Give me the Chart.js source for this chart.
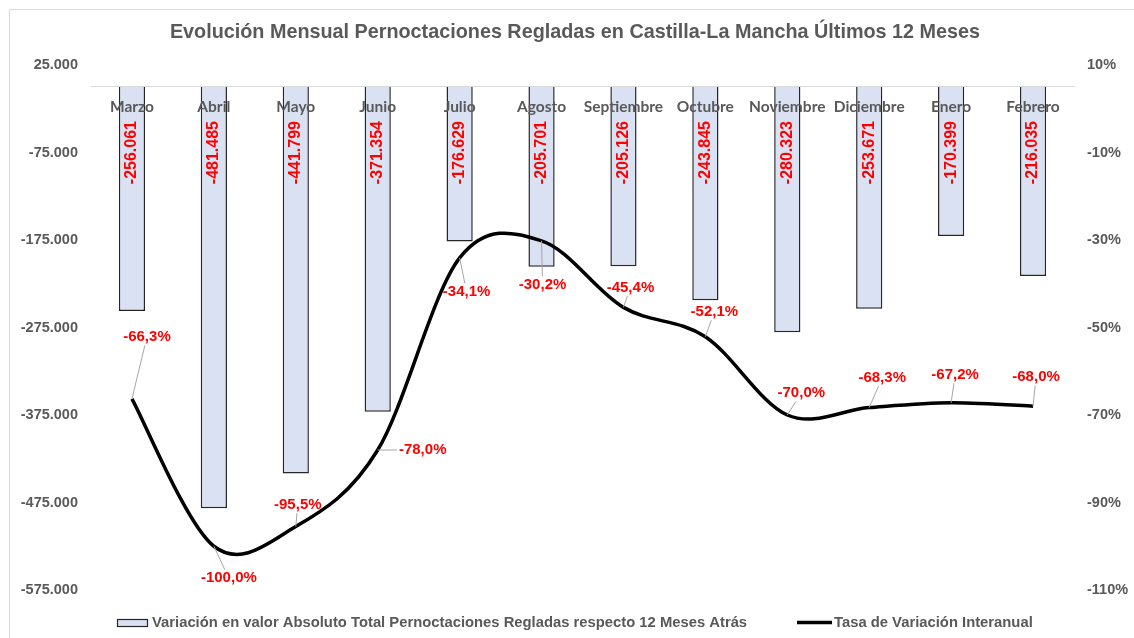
<!DOCTYPE html>
<html>
<head>
<meta charset="utf-8">
<script src="https://cdn.jsdelivr.net/npm/chart.js@4.4.0/dist/chart.umd.min.js"></script>
<style>
html,body{margin:0;padding:0;background:#fff;}
#wrap{width:1134px;height:638px;position:relative;}
</style>
</head>
<body>
<div id="wrap"><canvas id="c" width="1134" height="638"></canvas></div>
<script>
// ---------- DATA ----------
const categories = ['Marzo','Abril','Mayo','Junio','Julio','Agosto','Septiembre','Octubre','Noviembre','Diciembre','Enero','Febrero'];
const absoluteChange = [-256061,-481485,-441799,-371354,-176629,-205701,-205126,-243845,-280323,-253671,-170399,-216035];
const yoyRate = [-66.3,-100.0,-95.5,-78.0,-34.1,-30.2,-45.4,-52.1,-70.0,-68.3,-67.2,-68.0];
const leftTicks = [25000,-75000,-175000,-275000,-375000,-475000,-575000];
const rightTicks = [10,-10,-30,-50,-70,-90,-110];
const titleText = 'Evolución Mensual Pernoctaciones Regladas en Castilla-La Mancha Últimos 12 Meses';
const barSeriesName = 'Variación en valor Absoluto Total Pernoctaciones Regladas respecto 12 Meses Atrás';
const lineSeriesName = 'Tasa de Variación Interanual';

// ---------- helpers ----------
function fmtThousands(n){
  const s = Math.abs(Math.round(n)).toString().replace(/\B(?=(\d{3})+(?!\d))/g,'.');
  return (n < 0 ? '-' : '') + s;
}
function fmtPct(v){ return v.toFixed(1).replace('.',',') + '%'; }

const GRAY = '#595959';
const ARIAL = '"Liberation Sans", Arial, sans-serif';

// label placement for line values (offset from the point, in px)
const lineLabelOffsets = [[15,-62],[15,32],[2,-22],[45,0],[7,34],[1,44],[7,-20],[9,-25],[14,-22],[13,-30],[4,-28],[3,-29]];

const decor = {
  id: 'decor',
  beforeDraw(chart){
    const ctx = chart.ctx;
    ctx.save();
    ctx.fillStyle = '#fff';
    ctx.fillRect(0,0,chart.width,chart.height);
    ctx.strokeStyle = '#D9D9D9';
    ctx.lineWidth = 1;
    ctx.strokeRect(9.5,9.5,1300,800);
    ctx.restore();
  },
  beforeDatasetDraw(chart, args){
    const meta = args.meta;
    if (meta.type !== 'line') return;
    const pts = meta.data;
    for (let i = 0; i < pts.length; i++){
      const p = pts[i];
      const prev = pts[i-1] || p;
      const next = pts[i+1] || p;
      const tx = (next.x - prev.x)/6, ty = (next.y - prev.y)/6;
      p.cp1x = p.x - tx; p.cp1y = p.y - ty;
      p.cp2x = p.x + tx; p.cp2y = p.y + ty;
    }
    meta.dataset._pointsUpdated = true;
    meta.dataset._path = undefined;
  },
  afterDatasetsDraw(chart){
    const ctx = chart.ctx;
    ctx.save();
    // bar value labels (rotated)
    const barMeta = chart.getDatasetMeta(0);
    ctx.font = 'bold 16px ' + ARIAL;
    ctx.fillStyle = '#FF0000';
    barMeta.data.forEach((bar, i) => {
      ctx.save();
      ctx.translate(bar.x, 121);
      ctx.rotate(-Math.PI/2);
      ctx.textAlign = 'right';
      ctx.textBaseline = 'middle';
      ctx.fillText(fmtThousands(absoluteChange[i]), 0, 0);
      ctx.restore();
    });
    // line value labels with leader lines
    const lineMeta = chart.getDatasetMeta(1);
    ctx.font = 'bold 15px ' + ARIAL;
    lineMeta.data.forEach((pt, i) => {
      const txt = fmtPct(yoyRate[i]);
      const [dx, dy] = lineLabelOffsets[i];
      const cx = pt.x + dx, cy = pt.y + dy;
      const w = ctx.measureText(txt).width + 4, h = 17;
      const ddx = pt.x - cx, ddy = pt.y - cy;
      const s = Math.min(ddx ? (w/2)/Math.abs(ddx) : Infinity, ddy ? (h/2)/Math.abs(ddy) : Infinity);
      if (s < 1){
        const ex = cx + ddx*s, ey = cy + ddy*s;
        if (Math.hypot(pt.x-ex, pt.y-ey) > 6){
          ctx.strokeStyle = '#A6A6A6';
          ctx.lineWidth = 1;
          ctx.beginPath();
          ctx.moveTo(pt.x, pt.y);
          ctx.lineTo(ex, ey);
          ctx.stroke();
        }
      }
      ctx.fillStyle = '#FF0000';
      ctx.textAlign = 'center';
      ctx.textBaseline = 'middle';
      ctx.fillText(txt, cx, cy);
    });
    // title
    ctx.fillStyle = GRAY;
    ctx.font = 'bold 19.8px ' + ARIAL;
    ctx.textAlign = 'center';
    ctx.textBaseline = 'middle';
    ctx.fillText(titleText, 575, 33);
    // legend
    ctx.font = 'bold 14.8px ' + ARIAL;
    ctx.textAlign = 'left';
    ctx.fillStyle = '#D9E1F2';
    ctx.fillRect(117.5, 619.5, 30, 7);
    ctx.strokeStyle = '#262626';
    ctx.lineWidth = 1.2;
    ctx.strokeRect(117.5, 619.5, 30, 7);
    ctx.fillStyle = GRAY;
    ctx.fillText(barSeriesName, 152, 623);
    ctx.strokeStyle = '#000';
    ctx.lineWidth = 3.5;
    ctx.beginPath();
    ctx.moveTo(797, 622.5);
    ctx.lineTo(832, 622.5);
    ctx.stroke();
    ctx.fillText(lineSeriesName, 834, 623);
    ctx.restore();
  }
};

const chart = new Chart(document.getElementById('c'), {
  data: {
    labels: categories,
    datasets: [
      {
        type: 'bar',
        label: barSeriesName,
        data: absoluteChange,
        yAxisID: 'y',
        backgroundColor: '#D9E1F2',
        borderColor: '#262626',
        borderWidth: 1.5,
        borderSkipped: 'start',
        barPercentage: 0.32,
        categoryPercentage: 1,
        order: 2
      },
      {
        type: 'line',
        label: lineSeriesName,
        data: yoyRate,
        yAxisID: 'y1',
        borderColor: '#000',
        borderWidth: 3.5,
        pointRadius: 0,
        tension: 0.4,
        fill: false,
        order: 1
      }
    ]
  },
  options: {
    responsive: false,
    devicePixelRatio: 1,
    animation: false,
    events: [],
    layout: { padding: { top: 65, bottom: 48, left: 0, right: 0 } },
    plugins: {
      legend: { display: false },
      title: { display: false },
      tooltip: { enabled: false }
    },
    scales: {
      x: {
        type: 'category',
        position: { y: 0 },
        offset: true,
        grid: { display: false, drawTicks: false },
        border: { display: true, color: '#D9D9D9', width: 1, z: 1 },
        ticks: {
          z: 1,
          autoSkip: false, maxRotation: 0, minRotation: 0,
          padding: 11,
          color: GRAY,
          font: { family: 'Lato', weight: 'bold', size: 15.5 }
        }
      },
      y: {
        position: 'left',
        min: -575000, max: 25000,
        afterBuildTicks: s => { s.ticks = leftTicks.map(v => ({ value: v })); },
        afterFit: s => { s.width = 91; },
        grid: { display: false, drawTicks: false },
        border: { display: false },
        ticks: {
          padding: 13,
          color: GRAY,
          font: { family: ARIAL, weight: 'bold', size: 14.5 },
          callback: v => fmtThousands(v)
        }
      },
      y1: {
        position: 'right',
        min: -110, max: 10,
        afterBuildTicks: s => { s.ticks = rightTicks.map(v => ({ value: v })); },
        afterFit: s => { s.width = 60; },
        grid: { display: false, drawTicks: false },
        border: { display: false },
        ticks: {
          padding: 13,
          color: GRAY,
          font: { family: ARIAL, weight: 'bold', size: 14.5 },
          callback: v => v + '%'
        }
      }
    }
  },
  plugins: [decor]
});
</script>
</body>
</html>
